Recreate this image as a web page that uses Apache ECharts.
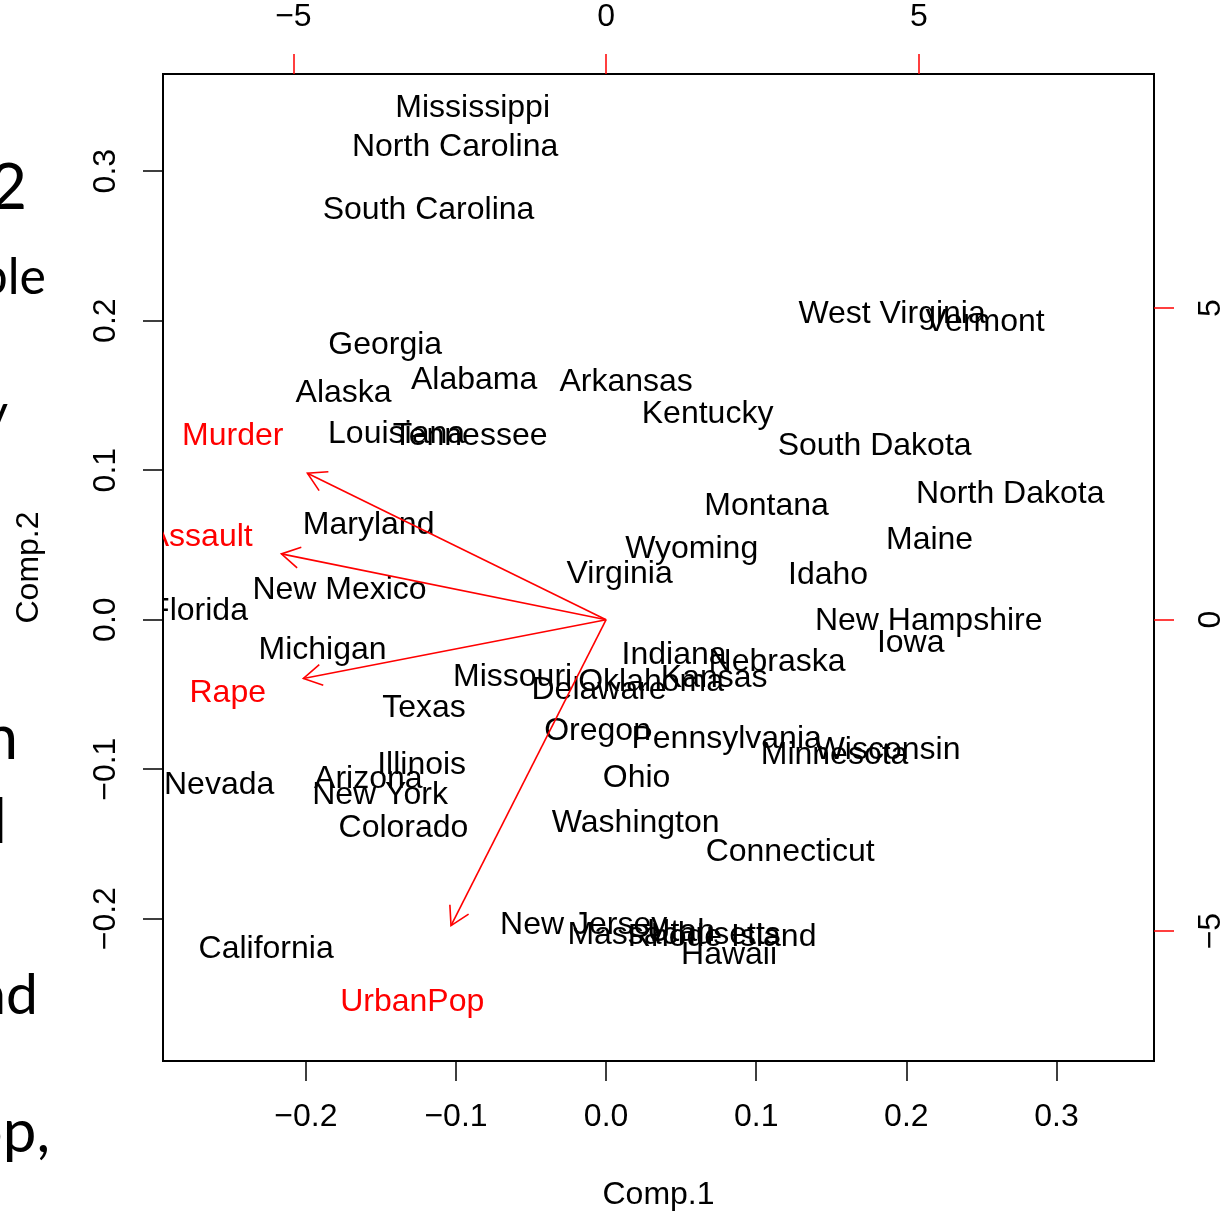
<!DOCTYPE html>
<html>
<head>
<meta charset="utf-8">
<script src="https://cdn.jsdelivr.net/npm/echarts@6/dist/echarts.min.js"></script>
<style>
html,body{margin:0;padding:0;background:#fff;overflow:hidden;}
#chart{width:1230px;height:1216px;}
</style>
</head>
<body>
<div id="chart"></div>
<script>
// ---- data: PCA scores (Comp.1, Comp.2) ----
const stateNames = ['Mississippi','North Carolina','South Carolina','West Virginia','Vermont','Georgia','Alabama','Arkansas','Alaska','Kentucky',
  'Louisiana','Tennessee','South Dakota','North Dakota','Montana','Maryland','Maine','Wyoming','Virginia','Idaho',
  'New Mexico','Florida','New Hampshire','Iowa','Michigan','Indiana','Nebraska','Missouri','Oklahoma','Kansas',
  'Delaware','Texas','Oregon','Pennsylvania','Minnesota','Wisconsin','Ohio','Illinois','Arizona','Nevada',
  'New York','Colorado','Washington','Connecticut','New Jersey','Massachusetts','Utah','Rhode Island','Hawaii','California'];
const stateComp1 = [-0.0889,-0.1006,-0.1183,0.1905,0.2525,-0.1472,-0.0879,0.0133,-0.1749,0.0676,
  -0.1396,-0.0906,0.1789,0.2692,0.1069,-0.1582,0.2155,0.0570,0.0090,0.1479,
  -0.1776,-0.2712,0.2149,0.2029,-0.1889,0.0453,0.1139,-0.0623,0.0300,0.0720,
  -0.0047,-0.1213,-0.0057,0.0803,0.1522,0.1875,0.0203,-0.1229,-0.1584,-0.2578,
  -0.1506,-0.1350,0.0197,0.1226,-0.0150,0.0453,0.0500,0.0773,0.0819,-0.2265];
const stateComp2 = [0.3419,0.3159,0.2740,0.2041,0.1988,0.1834,0.1605,0.1588,0.1518,0.1375,
  0.1238,0.1228,0.1162,0.0842,0.0756,0.0629,0.0529,0.0469,0.0303,0.0296,
  0.0196,0.0057,-0.0010,-0.0157,-0.0203,-0.0236,-0.0283,-0.0383,-0.0416,-0.0390,
  -0.0469,-0.0589,-0.0749,-0.0796,-0.0909,-0.0875,-0.1062,-0.0975,-0.1067,-0.1108,
  -0.1172,-0.1395,-0.1362,-0.1555,-0.2041,-0.2107,-0.2087,-0.2127,-0.2241,-0.2201];

// ---- variable loadings (top / right axes) ----
const varNames = ['Murder','Assault','UrbanPop','Rape'];
const varComp1 = [-5.97,-6.49,-3.10,-6.05];
const varComp2 = [2.94,1.32,-6.14,-1.18];
const ARROW_SCALE = 0.8;

// ---- tick values ----
const scoreTicks = [-0.2,-0.1,0,0.1,0.2,0.3];
const varTicks = [-5,0,5];

// ---- slide text fragments at the left edge ----
const slideTexts = ['PC2','variable','by','in','all','and','UrbanPop,'];

const FONT = '"Liberation Sans", Arial, Helvetica, sans-serif';
const SLIDE_FONT = 'Lato, "Open Sans", sans-serif';
const FS = 32;
const minus = s => s.replace('-', '\u2212');
const fmtScore = v => minus(Number(v).toFixed(1));
const fmtVar = v => minus(String(Math.round(v)));

const chart = echarts.init(document.getElementById('chart'), null, {renderer:'canvas'});

const tickStyle = (color, vals) => ({show:true, inside:false, length:20, customValues: vals, lineStyle:{color:color, width:1.5}});
const labelStyle = (vals, fmt, margin, rotate) => ({show:true, customValues: vals, formatter: fmt, margin: margin, rotate: rotate||0,
  color:'#000', fontSize: FS, fontFamily: FONT});
const noLine = {show:false, onZero:false};

// slide fragment layout: [right edge x, baseline y, font size]
const slideLayout = [[27,213,64],[46,297,50],[8,433,50],[18,763,62],[7,847,62],[38,1018,57],[50,1156,60]];

const option = {
  animation: false,
  backgroundColor: '#fff',
  grid: {left:163, top:74, width:991, height:991, show:true, borderColor:'#000', borderWidth:2, backgroundColor:'transparent'},
  xAxis: [
    {type:'value', position:'bottom', min:-0.2952, max:0.3650,
     axisLine:noLine, splitLine:{show:false},
     axisTick: tickStyle('#000', scoreTicks),
     axisLabel: labelStyle(scoreTicks, fmtScore, 40.5),
     name:'Comp.1', nameLocation:'middle', nameGap:118,
     nameTextStyle:{color:'#000', fontSize:FS, fontFamily:FONT}},
    {type:'value', position:'top', min:-7.085, max:8.760,
     axisLine:noLine, splitLine:{show:false},
     axisTick: tickStyle('#ff0000', varTicks),
     axisLabel: labelStyle(varTicks, fmtVar, 40.5)}
  ],
  yAxis: [
    {type:'value', position:'left', min:-0.2952, max:0.3650,
     axisLine:noLine, splitLine:{show:false},
     axisTick: tickStyle('#000', scoreTicks),
     axisLabel: labelStyle(scoreTicks, fmtScore, 41, 90),
     name:'Comp.2', nameLocation:'middle', nameGap:117.5,
     nameTextStyle:{color:'#000', fontSize:FS, fontFamily:FONT}},
    {type:'value', position:'right', min:-7.085, max:8.760,
     axisLine:noLine, splitLine:{show:false},
     axisTick: tickStyle('#ff0000', varTicks),
     axisLabel: labelStyle(varTicks, fmtVar, 41, 90)}
  ],
  series: [
    {
      type:'custom', name:'states', xAxisIndex:0, yAxisIndex:0, clip:true, silent:true,
      data: stateNames.map((n,i)=>[stateComp1[i], stateComp2[i]]),
      renderItem: function(params, api){
        const p = api.coord([api.value(0), api.value(1)]);
        return {type:'text', x:p[0], y:p[1],
          style:{text: stateNames[params.dataIndex], fill:'#000', fontSize:FS, fontFamily:FONT, align:'center', verticalAlign:'middle'}};
      }
    },
    {
      type:'custom', name:'varLabels', xAxisIndex:1, yAxisIndex:1, clip:true, silent:true, z:3,
      data: varNames.map((n,i)=>[varComp1[i], varComp2[i]]),
      renderItem: function(params, api){
        const p = api.coord([api.value(0), api.value(1)]);
        return {type:'text', x:p[0], y:p[1],
          style:{text: varNames[params.dataIndex], fill:'#ff0000', fontSize:FS, fontFamily:FONT, align:'center', verticalAlign:'middle'}};
      }
    },
    {
      type:'custom', name:'arrows', xAxisIndex:1, yAxisIndex:1, silent:true, z:4,
      data: varNames.map((n,i)=>[varComp1[i], varComp2[i]]),
      renderItem: function(params, api){
        const o = api.coord([0,0]);
        const t = api.coord([api.value(0)*ARROW_SCALE, api.value(1)*ARROW_SCALE]);
        const a = Math.atan2(o[1]-t[1], o[0]-t[0]);
        const L = 21, w = Math.PI/6;
        const a1 = [t[0]+L*Math.cos(a+w), t[1]+L*Math.sin(a+w)];
        const a2 = [t[0]+L*Math.cos(a-w), t[1]+L*Math.sin(a-w)];
        const st = {stroke:'#ff0000', lineWidth:1.6, fill:null};
        return {type:'group', children:[
          {type:'line', shape:{x1:o[0], y1:o[1], x2:t[0], y2:t[1]}, style:st},
          {type:'polyline', shape:{points:[a1, t, a2]}, style:st}
        ]};
      }
    }
  ],
  graphic: slideTexts.map((txt,i)=>({
    type:'text', x: slideLayout[i][0], y: slideLayout[i][1] - 0.387*slideLayout[i][2],
    style:{text: txt, fill:'#000', fontSize: slideLayout[i][2], fontFamily: SLIDE_FONT, align:'right', verticalAlign:'middle'}
  }))
};
chart.setOption(option);
</script>
</body>
</html>
